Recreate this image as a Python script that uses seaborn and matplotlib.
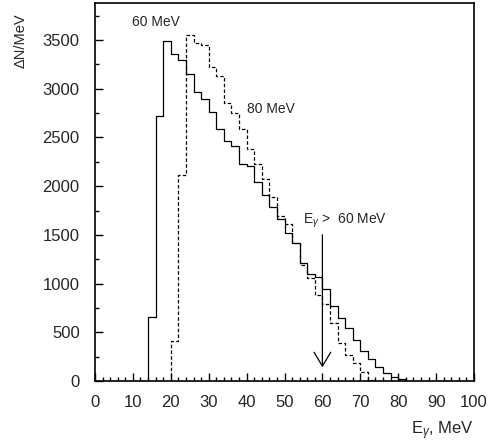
import matplotlib

matplotlib.use("Agg")
import matplotlib.pyplot as plt
from matplotlib.ticker import MultipleLocator
import numpy as np
import pandas as pd
import seaborn as sns

# Photon spectra, 2 MeV bins (lower bin edge in MeV -> counts per MeV)
edges_60 = [14, 16, 18, 20, 22, 24, 26, 28, 30, 32, 34, 36, 38, 40, 42, 44, 46,
            48, 50, 52, 54, 56, 58, 60, 62, 64, 66, 68, 70, 72, 74, 76, 78, 80]
counts_60 = [655, 2715, 3490, 3360, 3300, 3150, 2970, 2890, 2760, 2585, 2465,
             2410, 2225, 2210, 2045, 1910, 1790, 1660, 1515, 1420, 1210, 1095,
             1065, 940, 765, 650, 545, 421, 310, 225, 142, 78, 45, 20]

edges_80 = [20, 22, 24, 26, 28, 30, 32, 34, 36, 38, 40, 42, 44, 46, 48, 50, 52,
            54, 56, 58, 60, 62, 64, 66, 68, 70, 72]
counts_80 = [410, 2115, 3550, 3470, 3445, 3225, 3135, 2850, 2748, 2590, 2385,
             2225, 2070, 1892, 1694, 1610, 1420, 1195, 1060, 883, 790, 592, 390,
             268, 180, 90, 15]

bin_width = 2
e_cut = 60

df_60 = pd.DataFrame({"energy": np.array(edges_60) + bin_width / 2, "count": counts_60})
df_80 = pd.DataFrame({"energy": np.array(edges_80) + bin_width / 2, "count": counts_80})

sns.set_style("ticks")
plt.rcParams["font.family"] = ["Liberation Sans", "DejaVu Sans"]
plt.rcParams["mathtext.fontset"] = "custom"
plt.rcParams["mathtext.rm"] = "Liberation Sans"
plt.rcParams["mathtext.it"] = "Liberation Sans:italic"

fig = plt.figure(figsize=(4.89, 4.42), dpi=100)
ax = fig.add_axes([95 / 489, 61 / 442, 379 / 489, 378 / 442])

# 60 MeV beam (solid)
sns.histplot(data=df_60, x="energy", weights="count", binwidth=bin_width,
             binrange=(0, 100), element="step", fill=False, color="black",
             linewidth=0.9, ax=ax)

# 80 MeV beam (dashed)
sns.histplot(data=df_80, x="energy", weights="count", binwidth=bin_width,
             binrange=(0, 100), element="step", fill=False, color="black",
             linewidth=0.9, linestyle=(0, (2.8, 1.8)), ax=ax)

# Labels on the curves
ax.text(16.0, 3690, "60 MeV", ha="center", va="center", fontsize=10)
ax.text(40.0, 2790, "80 MeV", ha="left", va="center", fontsize=10)
ax.text(55.0, 1640, r"E$_\gamma$ >  60 MeV", ha="left", va="center", fontsize=10)

# Energy cut arrow
ax.annotate("", xy=(e_cut, 140), xytext=(e_cut, 1500),
            arrowprops=dict(arrowstyle="->,head_length=0.5,head_width=0.3",
                            mutation_scale=20, lw=0.9, color="black",
                            shrinkA=0, shrinkB=0))

# Axes
ax.set_xlim(0, 100)
ax.set_ylim(0, 3880)
ax.xaxis.set_major_locator(MultipleLocator(10))
ax.xaxis.set_minor_locator(MultipleLocator(2))
ax.yaxis.set_major_locator(MultipleLocator(500))
ax.yaxis.set_minor_locator(MultipleLocator(250))
ax.tick_params(which="both", direction="in", top=False, right=False,
               labelsize=12, color="black", width=1.0)
ax.tick_params(which="major", length=6)
ax.tick_params(which="minor", length=3)
ax.tick_params(axis="x", pad=10)
ax.tick_params(axis="y", pad=11)

for spine in ax.spines.values():
    spine.set_visible(True)
    spine.set_color("black")
    spine.set_linewidth(1.2)

ax.set_xlabel(r"E$_\gamma$, MeV", loc="right", fontsize=12, labelpad=7)
ax.set_ylabel("ΔN/MeV", loc="top", fontsize=10.5)
ax.yaxis.set_label_coords(-0.177, 0.9735)

fig.savefig("out.png", dpi=100)
